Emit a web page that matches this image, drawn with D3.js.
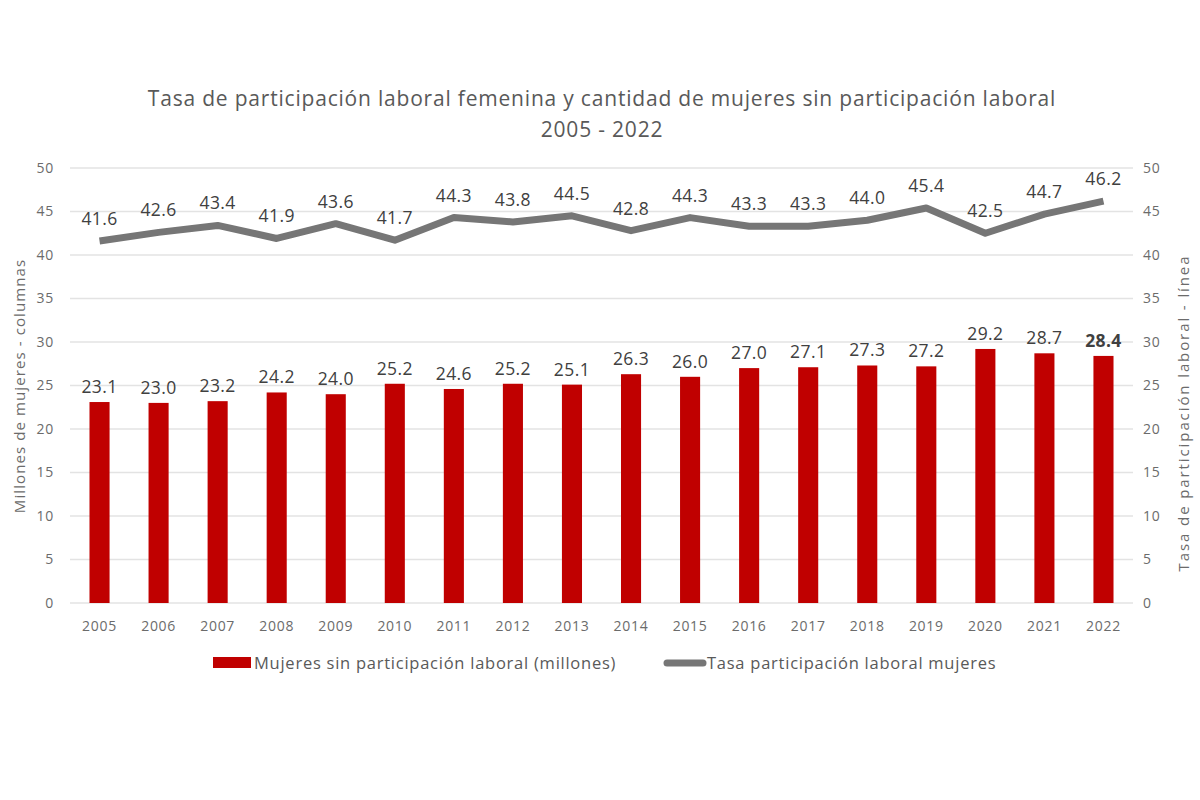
<!DOCTYPE html>
<html>
<head>
<meta charset="utf-8">
<script src="https://cdn.jsdelivr.net/npm/d3@7"></script>
<style>
  body { margin:0; background:#fff; }
  svg { display:block; font-family: "Open Sans", "Liberation Sans", sans-serif; }
</style>
</head>
<body>
<div id="chart"></div>
<script>
// data
const years = ["2005","2006","2007","2008","2009","2010","2011","2012","2013",
               "2014","2015","2016","2017","2018","2019","2020","2021","2022"];
const mujeresSin = [23.1,23.0,23.2,24.2,24.0,25.2,24.6,25.2,25.1,26.3,26.0,27.0,27.1,27.3,27.2,29.2,28.7,28.4];
const tasa = [41.6,42.6,43.4,41.9,43.6,41.7,44.3,43.8,44.5,42.8,44.3,43.3,43.3,44.0,45.4,42.5,44.7,46.2];
const yTicks = [0,5,10,15,20,25,30,35,40,45,50];

const W = 1200, H = 800;
const m = { left: 70, right: 67, top: 168, bottom: 197 };

const svg = d3.select("#chart").append("svg")
  .attr("width", W).attr("height", H);

const x = d3.scaleBand().domain(years)
  .range([m.left, W - m.right]).paddingInner(0.66).paddingOuter(0.33);
const y = d3.scaleLinear().domain([0, 50]).range([H - m.bottom, m.top]);
const y2 = d3.scaleLinear().domain([0, 50]).range([H - m.bottom, m.top]);

// grid
svg.append("g").selectAll("line").data(yTicks).join("line")
  .attr("x1", m.left).attr("x2", W - m.right)
  .attr("y1", d => y(d)).attr("y2", d => y(d))
  .attr("stroke", "#e3e3e3").attr("stroke-width", 1.5);

// axes
const axL = svg.append("g").attr("transform", `translate(${m.left - 10},0)`)
  .call(d3.axisLeft(y).tickValues(yTicks).tickSize(0).tickPadding(6));
const axR = svg.append("g").attr("transform", `translate(${W - m.right + 4},0)`)
  .call(d3.axisRight(y2).tickValues(yTicks).tickSize(0).tickPadding(6));
const axB = svg.append("g").attr("transform", `translate(0,${H - m.bottom + 10})`)
  .call(d3.axisBottom(x).tickSize(0).tickPadding(8));
[axL, axR, axB].forEach(a => {
  a.select(".domain").remove();
  a.selectAll("text").attr("fill", "#6b6b6b").attr("font-size", 14)
    .attr("font-family", "Open Sans, sans-serif").attr("letter-spacing", 0.7);
});

// bars
svg.append("g").selectAll("rect").data(years).join("rect")
  .attr("x", d => x(d))
  .attr("width", x.bandwidth())
  .attr("y", (d, i) => y(mujeresSin[i]))
  .attr("height", (d, i) => y(0) - y(mujeresSin[i]))
  .attr("fill", "#c00000");

svg.append("g").selectAll("text").data(years).join("text")
  .attr("x", d => x(d) + x.bandwidth() / 2)
  .attr("y", (d, i) => y(mujeresSin[i]) - 9)
  .attr("text-anchor", "middle")
  .attr("font-size", 17.5).attr("letter-spacing", 0.4)
  .attr("font-weight", (d, i) => i === years.length - 1 ? 700 : 400)
  .attr("fill", "#404040")
  .text((d, i) => mujeresSin[i].toFixed(1));

// line
const line = d3.line()
  .x((d, i) => x(years[i]) + x.bandwidth() / 2)
  .y(d => y2(d));
svg.append("path").datum(tasa)
  .attr("d", line)
  .attr("fill", "none")
  .attr("stroke", "#767676")
  .attr("stroke-width", 7)
  .attr("stroke-linejoin", "round");

svg.append("g").selectAll("text").data(tasa).join("text")
  .attr("x", (d, i) => x(years[i]) + x.bandwidth() / 2)
  .attr("y", d => y2(d) - 16)
  .attr("text-anchor", "middle")
  .attr("font-size", 17.5).attr("letter-spacing", 0.4)
  .attr("fill", "#404040")
  .text(d => d.toFixed(1));

// title
svg.append("text").attr("x", 602).attr("y", 106)
  .attr("text-anchor", "middle").attr("font-size", 21).attr("letter-spacing", 0.8)
  .attr("fill", "#595959")
  .text("Tasa de participación laboral femenina y cantidad de mujeres sin participación laboral");
svg.append("text").attr("x", 602).attr("y", 137)
  .attr("text-anchor", "middle").attr("font-size", 21).attr("letter-spacing", 0.8)
  .attr("fill", "#595959")
  .text("2005 - 2022");

// axis titles
svg.append("text")
  .attr("transform", "translate(25,386) rotate(-90)")
  .attr("text-anchor", "middle").attr("font-size", 15).attr("letter-spacing", 1.1)
  .attr("fill", "#6b6b6b")
  .text("Millones de mujeres - columnas");
svg.append("text")
  .attr("transform", "translate(1189,413) rotate(-90)")
  .attr("text-anchor", "middle").attr("font-size", 15).attr("letter-spacing", 1.9)
  .attr("fill", "#6b6b6b")
  .text("Tasa de participación laboral - línea");

// legend
const lg = svg.append("g").attr("transform", "translate(0,663)");
lg.append("rect").attr("x", 213).attr("y", -6).attr("width", 38).attr("height", 11)
  .attr("fill", "#c00000");
lg.append("text").attr("x", 254).attr("y", 6).attr("font-size", 16.5).attr("letter-spacing", 0.75)
  .attr("fill", "#595959")
  .text("Mujeres sin participación laboral (millones)");
lg.append("line").attr("x1", 667).attr("x2", 703).attr("y1", 0).attr("y2", 0)
  .attr("stroke", "#767676").attr("stroke-width", 7).attr("stroke-linecap", "round");
lg.append("text").attr("x", 707).attr("y", 6).attr("font-size", 16.5).attr("letter-spacing", 0.75)
  .attr("fill", "#595959")
  .text("Tasa participación laboral mujeres");
</script>
</body>
</html>
